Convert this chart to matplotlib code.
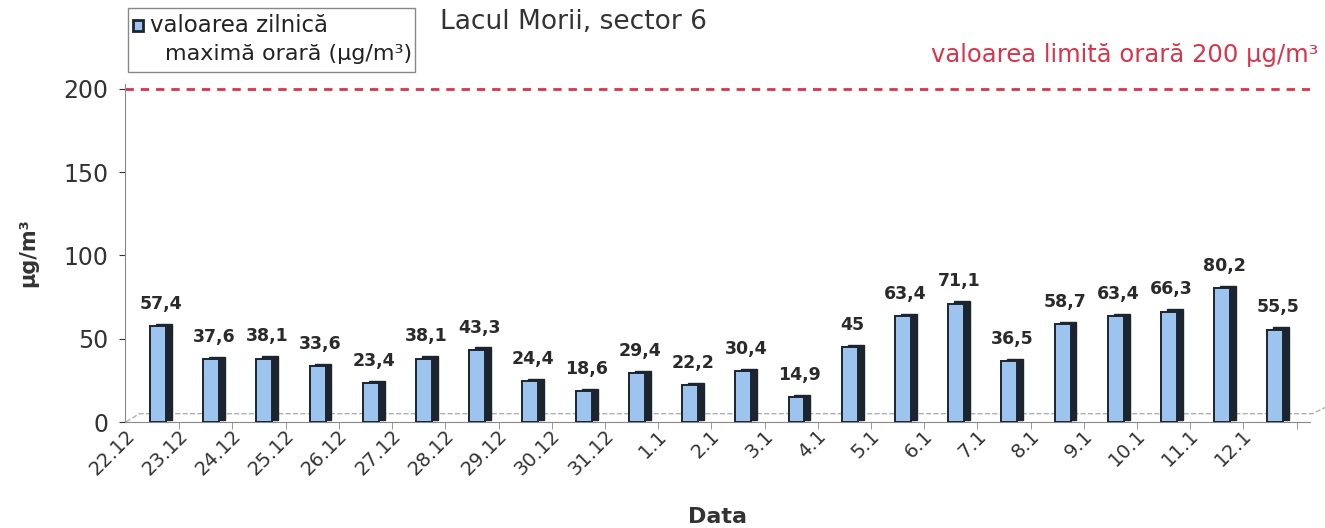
import numpy as np
import matplotlib.pyplot as plt

plt.rcParams['font.family'] = ['DejaVu Sans']

# Data
zile = ['22.12', '23.12', '24.12', '25.12', '26.12', '27.12', '28.12', '29.12',
        '30.12', '31.12', '1.1', '2.1', '3.1', '4.1', '5.1', '6.1', '7.1', '8.1',
        '9.1', '10.1', '11.1', '12.1']
valori = [57.4, 37.6, 38.1, 33.6, 23.4, 38.1, 43.3, 24.4, 18.6, 29.4, 22.2,
          30.4, 14.9, 45, 63.4, 71.1, 36.5, 58.7, 63.4, 66.3, 80.2, 55.5]
limita = 200

x = np.arange(len(zile))

fig = plt.figure(figsize=(13.25, 5.28), dpi=100)
ax = fig.add_axes([125 / 1325, 1 - 422 / 528, 1185 / 1325, 338 / 528])

# fake 3D bars: dark side + light front
w = 0.30
ax.bar(x + 0.11, valori, width=w, color='#1c2430', edgecolor='#1c2430',
       bottom=1.5, zorder=2)
ax.bar(x, valori, width=w, color='#9cc4ee', edgecolor='#1c2430',
       linewidth=1.4, zorder=3)

for xi, v in zip(x, valori):
    txt = ('%g' % v).replace('.', ',')
    ax.text(xi + 0.05, v + 8, txt, ha='center', va='bottom', fontsize=12.5,
            fontweight='bold', color='#2a2a2a', zorder=4)

# floor line
ax.plot([-0.6, -0.35, len(zile) - 0.3, len(zile) - 0.05], [0, 5, 5, 9],
        color='#b0b0b0', lw=1, ls='--', zorder=1, clip_on=False)

# limit line
ax.axhline(limita, color='#d9344c', lw=2, ls=(0, (3, 2.5)), zorder=1)
ax.text(1.007, 1.085, 'valoarea limită orară 200 µg/m³', transform=ax.transAxes,
        ha='right', va='center', fontsize=17.5, color='#d9344c')

ax.set_xlim(-0.62, len(zile) - 0.35)
ax.set_ylim(0, 203)
ax.set_yticks([0, 50, 100, 150, 200])
ax.tick_params(axis='y', labelsize=17, length=4, colors='#333333', pad=8)

# labels sit left of the bars (3D perspective), tick marks between bars
ax.set_xticks(x - 0.62)
ax.set_xticklabels(zile, rotation=45, ha='right', rotation_mode='anchor',
                   fontsize=14, color='#333333')
ax.tick_params(axis='x', length=0, pad=3)
ax.set_xticks(x + 0.4, minor=True)
ax.tick_params(axis='x', which='minor', length=5, color='#888888')

for s in ['top', 'right']:
    ax.spines[s].set_visible(False)
ax.spines['left'].set_color('#888888')
ax.spines['bottom'].set_color('#888888')

ax.set_ylabel('µg/m³', fontsize=15, fontweight='bold', color='#333333', labelpad=18)
ax.set_xlabel('Data', fontsize=16, fontweight='bold', color='#333333', labelpad=20)

fig.text(440 / 1325, 1 - 22 / 528, 'Lacul Morii, sector 6', fontsize=19,
         color='#333333', va='center', ha='left')

# legend box
fig.patches.append(plt.Rectangle((128 / 1325, 1 - 72 / 528), 287 / 1325, 64 / 528,
                                 transform=fig.transFigure, fill=False,
                                 edgecolor='#888888', lw=1))
fig.patches.append(plt.Rectangle((133 / 1325, 1 - 31 / 528), 10 / 1325, 11 / 528,
                                 transform=fig.transFigure, facecolor='#9cc4ee',
                                 edgecolor='#1c2430', lw=2))
fig.text(150 / 1325, 1 - 25 / 528, 'valoarea zilnică', fontsize=16.5,
         color='#222222', va='center')
fig.text(165 / 1325, 1 - 54 / 528, 'maximă orară (µg/m³)', fontsize=16,
         color='#222222', va='center')

fig.savefig('out.png', dpi=100)
